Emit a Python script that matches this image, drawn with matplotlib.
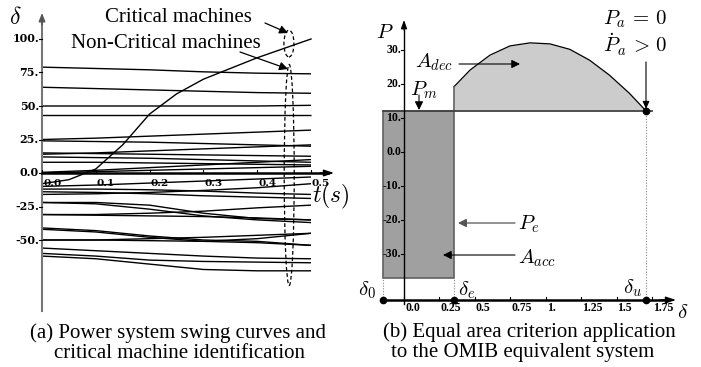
import matplotlib
matplotlib.use('Agg')
import matplotlib.pyplot as plt
from matplotlib.patches import Ellipse, Rectangle

plt.rcParams['mathtext.fontset'] = 'cm'
plt.rcParams['font.family'] = ['Liberation Serif', 'DejaVu Serif']

# ---------------- data: (a) swing curves ----------------
t_samples = [0.0, 0.1, 0.2, 0.3, 0.4, 0.5]
noncritical_deltas = [
    [79, 78, 77, 75.5, 74.5, 74],
    [64, 63, 62, 61, 60, 59.5],
    [50, 50, 50, 50, 50, 50.5],
    [43, 43, 43, 43, 43, 43],
    [25, 26, 27.5, 29, 30.5, 32],
    [24, 23.5, 23, 22, 21, 20],
    [15, 14.5, 14, 13.5, 13, 12.5],
    [14, 15, 16.5, 18, 19.5, 21],
    [12, 11.5, 11, 10, 9, 8],
    [8, 8, 7.5, 7, 6.5, 6],
    [0.5, 2, 4, 6, 8, 10],
    [0, 1, 2, 3, 4, 5],
    [-10, -9, -7.5, -6, -4.5, -3],
    [-12, -12, -12.5, -13.5, -15, -16],
    [-14, -14.5, -15.5, -17, -18, -19],
    [-16, -15.5, -14.5, -13, -11, -8],
    [-22, -23, -27, -32, -35, -37],
    [-22, -22, -24, -30, -34, -35],
    [-31, -31, -30, -28.5, -26, -24],
    [-31, -31.5, -32, -32.5, -33.5, -35],
    [-41, -43, -47, -50, -51, -54],
    [-42, -44, -48, -51, -49, -45],
    [-50, -50, -50.5, -51, -52, -54],
    [-50, -50, -49, -48, -46.5, -45],
    [-56, -58, -60, -62, -63.5, -64],
    [-60, -62, -65, -66, -66.5, -67],
    [-62, -64, -68, -72, -73, -73],
]
t_critical = [0.0, 0.05, 0.1, 0.15, 0.2, 0.25, 0.3, 0.35, 0.4, 0.45, 0.5]
critical_delta = [-8, -5, 3, 21, 44, 59, 70, 78, 86, 93, 100]
left_xticks = [0.0, 0.1, 0.2, 0.3, 0.4, 0.5]
left_xticklabels = ["0.0", "0.1", "0.2", "0.3", "0.4", "0.5"]
left_yticks = [100, 75, 50, 25, 0, -25, -50]
left_yticklabels = ["100.", "75.", "50.", "25.", "0.0", "-25.", "-50."]

# ---------------- data: (b) equal area criterion ----------------
delta0 = -0.15
delta_e = 0.353
delta_u = 1.71
Pm = 12
Pe_fault = -37
Pe_post_delta = [0.353, 0.466, 0.607, 0.748, 0.889, 1.03, 1.17, 1.31, 1.45, 1.59, 1.71]
Pe_post = [19.2, 24.1, 28.5, 31.2, 32.1, 31.8, 30.2, 27.0, 22.6, 17.3, 12.0]
right_xticks = [0, 0.25, 0.5, 0.75, 1.0, 1.25, 1.5, 1.75]
right_xticklabels = ["0.0", "0.25", "0.5", "0.75", "1.", "1.25", "1.5", "1.75"]
right_yticks = [30, 20, 10, 0, -10, -20, -30]
right_yticklabels = ["30.", "20.", "10.", "0.0", "-10.", "-20.", "-30."]

W, H = 701, 367
fig = plt.figure(figsize=(W / 100, H / 100), dpi=100)

def fp(px, py):
    return (px, H - py)

def arrow(ax, x0, y0, x1, y1, color='black', lw=0.8, hw=0.25, hl=0.5):
    ax.annotate('', xy=fp(x1, y1), xycoords='figure pixels',
                xytext=fp(x0, y0), textcoords='figure pixels',
                arrowprops=dict(arrowstyle='-|>,head_width=%g,head_length=%g' % (hw, hl),
                                color=color, lw=lw, shrinkA=0, shrinkB=0))

tick_font = dict(family='DejaVu Serif', fontweight='bold')

# ---------------- left panel ----------------
axL = fig.add_axes([0, 0, 350 / W, 1])
axL.set_xlim((0 - 42) / 538, (350 - 42) / 538)
axL.set_ylim((173 - 367) / 1.34, 173 / 1.34)
axL.axis('off')

for d in noncritical_deltas:
    axL.plot(t_samples, d, color='black', lw=1.0, solid_capstyle='butt')
axL.plot(t_critical, critical_delta, color='black', lw=1.0)

# axes
axL.plot([0, 0], [(173 - 311) / 1.34, (173 - 22) / 1.34], color='#777777', lw=1.5)
arrow(axL, 42, 25, 42, 13, color='#555555', lw=1.0, hw=0.2, hl=0.5)
axL.plot([0, (328 - 42) / 538], [0, 0], color='black', lw=1.8)
arrow(axL, 320, 173, 334, 173, color='black', lw=1.0, hw=0.2, hl=0.6)

for tv, lab in zip(left_xticks, left_xticklabels):
    axL.plot([tv, tv], [0, 2.5], color='black', lw=0.8)
    axL.text(tv + 1 / 538, -7.5, lab, fontsize=7.5, ha='left', va='center', **tick_font)
for dv, lab in zip(left_yticks, left_yticklabels):
    axL.plot([-3 / 538, 0], [dv, dv], color='black', lw=0.8)
    axL.text(-3 / 538, dv, lab, fontsize=8, ha='right', va='center', **tick_font)

axL.add_patch(Ellipse((0.459, 96.6), 0.0186, 20, fill=False, ls=(0, (3, 2)), lw=0.9, color='black'))
axL.add_patch(Ellipse((0.4595, -1.5), 0.0186, 165, fill=False, ls=(0, (3, 2)), lw=0.9, color='black'))

fig.text(15 / W, 1 - 18 / H, r'$\delta$', fontsize=17, ha='center', va='center')
fig.text(331 / W, 1 - 196 / H, r'$t(s)$', fontsize=17, ha='center', va='center')
fig.text(178 / W, 1 - 18 / H, 'Critical machines', fontsize=15, ha='center', va='center')
fig.text(166 / W, 1 - 44 / H, 'Non-Critical machines', fontsize=15, ha='center', va='center')
arrow(axL, 265, 23, 288, 33, lw=0.9)
arrow(axL, 240, 52, 288, 69, lw=0.9)

fig.text(178 / W, 1 - 333 / H, '(a) Power system swing curves and', fontsize=15, ha='center', va='center')
fig.text(179 / W, 1 - 354 / H, 'critical machine identification', fontsize=15, ha='center', va='center')

# ---------------- right panel ----------------
axR = fig.add_axes([350 / W, 0, 351 / W, 1])
axR.set_xlim((350 - 404) / 141.7, (701 - 404) / 141.7)
axR.set_ylim((152 - 367) / 3.4, 152 / 3.4)
axR.axis('off')
P_axis = (152 - 300) / 3.4

axR.fill_between(Pe_post_delta, Pm, Pe_post, color='#cccccc', lw=0)
axR.plot(Pe_post_delta, Pe_post, color='black', lw=0.9)
axR.add_patch(Rectangle((delta0, Pe_fault), delta_e - delta0, Pm - Pe_fault,
                        facecolor='#a0a0a0', edgecolor='#606060', lw=1.2))
axR.plot([delta_e, delta_e], [Pm, Pe_post[0]], color='#606060', lw=1.2)
axR.plot([delta0, 1.75], [Pm, Pm], color='#444444', lw=1.3)

for dv, top in [(delta0, Pe_fault), (delta_e, Pe_fault), (delta_u, Pm)]:
    axR.plot([dv, dv], [P_axis, top], color='#888888', lw=0.8, ls=(0, (1, 1.5)))

# axes
axR.plot([0, 0], [(152 - 304) / 3.4, (152 - 30) / 3.4], color='black', lw=1.0)
arrow(axR, 404, 30, 404, 20, lw=0.9, hw=0.18, hl=0.5)
axR.plot([delta0, (668 - 404) / 141.7], [P_axis, P_axis], color='black', lw=1.8)
arrow(axR, 660, 300, 676, 300, lw=1.0, hw=0.2, hl=0.6)

for dv, lab in zip(right_xticks, right_xticklabels):
    axR.plot([dv, dv], [P_axis, P_axis + 1.0], color='black', lw=0.8)
    axR.text(dv + 1 / 141.7, P_axis - 2.4, lab, fontsize=8.5, fontweight='bold', ha='left', va='center')
for pv, lab in zip(right_yticks, right_yticklabels):
    axR.plot([-3 / 141.7, 0], [pv, pv], color='black', lw=0.8)
    axR.text(-3 / 141.7, pv, lab, fontsize=8.5, fontweight='bold', ha='right', va='center')

axR.plot([delta0, delta_e, delta_u, delta_u], [P_axis, P_axis, P_axis, Pm], 'o', color='black', ms=4.5)

fig.text(385 / W, 1 - 33 / H, r'$P$', fontsize=15, ha='center', va='center')
fig.text(683 / W, 1 - 314 / H, r'$\delta$', fontsize=15, ha='center', va='center')
fig.text(367 / W, 1 - 290 / H, r'$\delta_0$', fontsize=15, ha='center', va='center')
fig.text(467 / W, 1 - 290 / H, r'$\delta_e$', fontsize=15, ha='center', va='center')
fig.text(633 / W, 1 - 288 / H, r'$\delta_u$', fontsize=15, ha='center', va='center')
fig.text(415 / W, 1 - 62 / H, r'$A_{dec}$', fontsize=15, ha='left', va='center')
fig.text(410 / W, 1 - 90 / H, r'$P_m$', fontsize=15, ha='left', va='center')
fig.text(603 / W, 1 - 19 / H, r'$P_a\,=\,0$', fontsize=15, ha='left', va='center')
fig.text(603 / W, 1 - 45 / H, r'$\dot{P}_a\,>\,0$', fontsize=15, ha='left', va='center')
fig.text(518 / W, 1 - 224 / H, r'$P_e$', fontsize=15, ha='left', va='center')
fig.text(518 / W, 1 - 258 / H, r'$A_{acc}$', fontsize=15, ha='left', va='center')

arrow(axR, 459, 64, 520, 64, lw=0.8)
arrow(axR, 419, 95, 419, 110, lw=0.8)
arrow(axR, 646, 62, 646, 109, lw=0.8, hw=0.2, hl=0.45)
arrow(axR, 515, 223, 458, 223, color='#555555', lw=0.9)
arrow(axR, 515, 255, 443, 255, lw=0.8)

fig.text(529 / W, 1 - 332 / H, '(b) Equal area criterion application', fontsize=15, ha='center', va='center')
fig.text(523 / W, 1 - 352 / H, 'to the OMIB equivalent system', fontsize=15, ha='center', va='center')

fig.savefig('out.png', dpi=100)
